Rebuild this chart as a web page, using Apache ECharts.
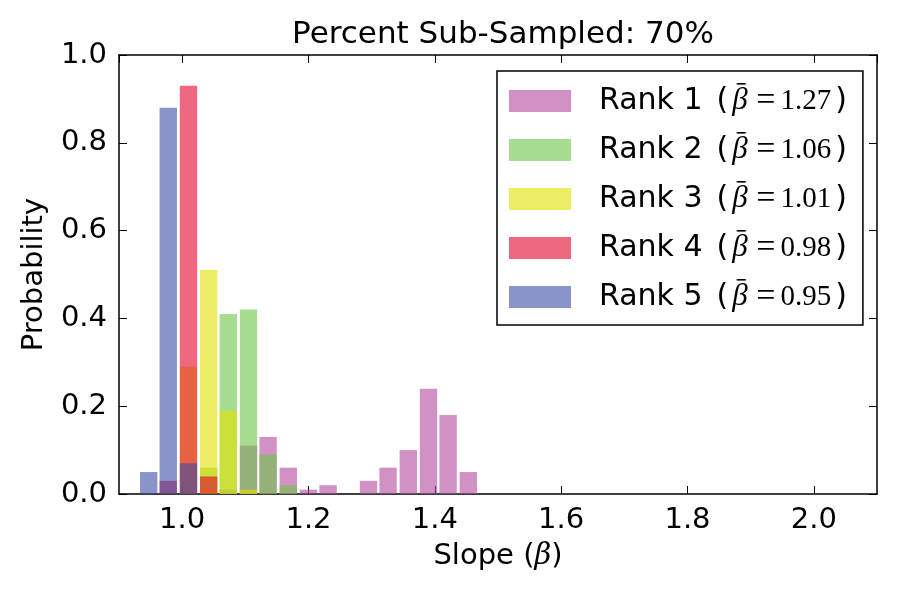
<!DOCTYPE html>
<html>
<head>
<meta charset="utf-8">
<script src="https://cdn.jsdelivr.net/npm/echarts@6/dist/echarts.min.js"></script>
<style>
    html, body { margin: 0; padding: 0; background: #fff; }
    #main { width: 900px; height: 600px; }
</style>
</head>
<body>
<div id="main"></div>
<script>
// histogram bins (centre of each bin, slope beta)
var binCenters = [0.947, 0.978, 1.010, 1.042, 1.073, 1.105, 1.136, 1.168, 1.200,
                  1.231, 1.263, 1.295, 1.326, 1.358, 1.390, 1.421, 1.453];
// probability per bin, one array per rank
var rank1 = [0, 0, 0, 0, 0.01, 0.11, 0.13, 0.06, 0.01, 0.02, 0, 0.03, 0.06, 0.10, 0.24, 0.18, 0.05];
var rank2 = [0, 0, 0, 0.06, 0.41, 0.42, 0.09, 0.02, 0, 0, 0, 0, 0, 0, 0, 0, 0];
var rank3 = [0, 0, 0.29, 0.51, 0.19, 0.01, 0, 0, 0, 0, 0, 0, 0, 0, 0, 0, 0];
var rank4 = [0, 0.03, 0.93, 0.04, 0, 0, 0, 0, 0, 0, 0, 0, 0, 0, 0, 0, 0];
var rank5 = [0.05, 0.88, 0.07, 0, 0, 0, 0, 0, 0, 0, 0, 0, 0, 0, 0, 0, 0];
var rankNames = ['Rank 1', 'Rank 2', 'Rank 3', 'Rank 4', 'Rank 5'];
var meanSlopes = ['1.27', '1.06', '1.01', '0.98', '0.95'];

var binWidth = 0.0316;   // bin step on the x axis
var barFill = 0.87;      // part of the bin that the bar covers
var colors = ['rgba(180,72,158,0.6)', 'rgba(110,197,70,0.6)', 'rgba(227,227,0,0.6)',
              'rgba(227,3,43,0.6)', 'rgba(60,77,163,0.6)'];

function makeSeries(name, values, color) {
    var data = [];
    for (var i = 0; i < values.length; i++) {
        if (values[i] > 0) data.push([binCenters[i], values[i]]);
    }
    return {
        name: name,
        type: 'custom',
        xAxisIndex: 0,
        yAxisIndex: 0,
        itemStyle: { color: color },
        renderItem: function (params, api) {
            var x = api.value(0), y = api.value(1);
            var half = binWidth * barFill / 2;
            var p0 = api.coord([x - half, y]);
            var p1 = api.coord([x + half, 0]);
            return {
                type: 'rect',
                shape: { x: p0[0], y: p0[1], width: p1[0] - p0[0], height: p1[1] - p0[1] },
                style: { fill: color }
            };
        },
        data: data
    };
}

// the bar of "beta-bar", used as background of the beta in the legend
var barCanvas = document.createElement('canvas');
barCanvas.width = 25;
barCanvas.height = 40;
var bctx = barCanvas.getContext('2d');
bctx.fillStyle = '#000';
bctx.fillRect(8.5, 2, 9, 1.6);

var myChart = echarts.init(document.getElementById('main'));
var axisLineStyle = { color: '#000', width: 1.5 };
var tickStyle = { show: true, inside: true, length: 8, lineStyle: { color: '#000' } };
var font = 'DejaVu Sans';
var mathFont = 'Liberation Serif';

option = {
    animation: false,
    textStyle: { fontFamily: font },
    title: {
        text: 'Percent Sub-Sampled: 70%',
        left: 498,
        textAlign: 'center',
        top: 14,
        textStyle: { fontFamily: font, fontSize: 31, fontWeight: 'normal', color: '#000' }
    },
    grid: { left: 119, right: 23, top: 55, bottom: 106 },
    legend: {
        orient: 'vertical',
        left: 497,
        top: 71,
        padding: [10, 16, 8, 12],
        borderColor: '#000',
        borderWidth: 1.5,
        backgroundColor: '#fff',
        itemWidth: 62,
        itemHeight: 22,
        itemGap: 9,
        icon: 'rect',
        data: rankNames,
        formatter: function (name) {
            var k = rankNames.indexOf(name);
            return '{t|' + name + '}{p|(}{m|\u03b2}{e|=}{n|' + meanSlopes[k] + '}{t|)}';
        },
        textStyle: {
            fontFamily: font, fontSize: 30, color: '#000', padding: [0, 0, 0, 23],
            rich: {
                t: { fontFamily: font, fontSize: 30, color: '#000' },
                p: { fontFamily: font, fontSize: 30, color: '#000', padding: [0, 0, 0, 14] },
                m: {
                    fontFamily: mathFont, fontStyle: 'italic', fontSize: 31, color: '#000',
                    width: 17, height: 40, padding: [0, 4, 0, 4],
                    backgroundColor: { image: barCanvas }
                },
                e: { fontFamily: mathFont, fontSize: 34, color: '#000', padding: [0, 5, 0, 3] },
                n: { fontFamily: mathFont, fontSize: 29, color: '#000', padding: [0, 4, 0, 0] }
            }
        }
    },
    xAxis: [
        {
            type: 'value', min: 0.9, max: 2.1,
            splitNumber: 6,
            name: 'Slope ({b|\u03b2})',
            nameLocation: 'middle',
            nameGap: 48,
            nameTextStyle: {
                fontFamily: font, fontSize: 29, color: '#000',
                rich: { b: { fontFamily: 'DejaVu Serif', fontStyle: 'italic', fontSize: 29, color: '#000' } }
            },
            axisLine: { onZero: false, lineStyle: axisLineStyle },
            axisTick: tickStyle,
            axisLabel: {
                fontFamily: font, fontSize: 29, color: '#000', margin: 12,
                showMinLabel: false, showMaxLabel: false,
                formatter: function (v) { return v.toFixed(1); }
            },
            splitLine: { show: false }
        },
        {
            type: 'value', min: 0.9, max: 2.1, splitNumber: 6,
            position: 'top',
            axisLine: { onZero: false, lineStyle: axisLineStyle },
            axisTick: tickStyle,
            axisLabel: { show: false },
            splitLine: { show: false }
        }
    ],
    yAxis: [
        {
            type: 'value', min: 0, max: 1, interval: 0.2,
            name: 'Probability',
            nameLocation: 'middle',
            nameGap: 70,
            nameTextStyle: { fontFamily: font, fontSize: 29, color: '#000' },
            axisLine: { show: true, onZero: false, lineStyle: axisLineStyle },
            axisTick: tickStyle,
            axisLabel: {
                fontFamily: font, fontSize: 29, color: '#000', margin: 12,
                formatter: function (v) { return v.toFixed(1); }
            },
            splitLine: { show: false }
        },
        {
            type: 'value', min: 0, max: 1, interval: 0.2,
            position: 'right',
            axisLine: { show: true, onZero: false, lineStyle: axisLineStyle },
            axisTick: tickStyle,
            axisLabel: { show: false },
            splitLine: { show: false }
        }
    ],
    series: [
        makeSeries(rankNames[0], rank1, colors[0]),
        makeSeries(rankNames[1], rank2, colors[1]),
        makeSeries(rankNames[2], rank3, colors[2]),
        makeSeries(rankNames[3], rank4, colors[3]),
        makeSeries(rankNames[4], rank5, colors[4])
    ]
};
myChart.setOption(option);
</script>
</body>
</html>
